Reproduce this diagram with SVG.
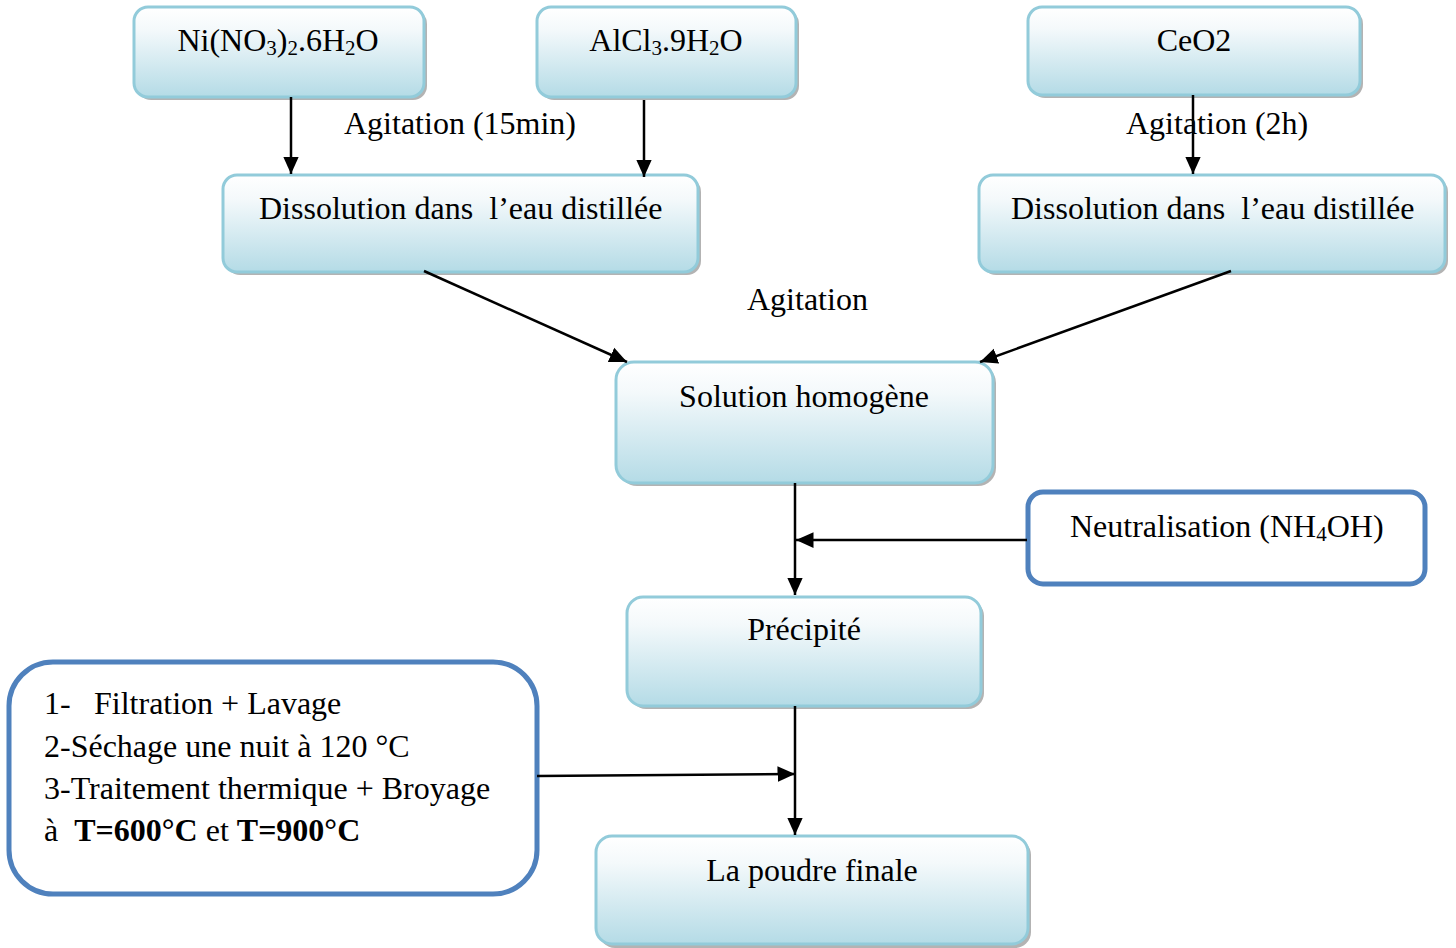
<svg xmlns="http://www.w3.org/2000/svg" width="1456" height="948" viewBox="0 0 1456 948">
<defs>
<linearGradient id="g" x1="0" y1="0" x2="0" y2="1">
<stop offset="0" stop-color="#ffffff"/>
<stop offset="0.25" stop-color="#f4f9fb"/>
<stop offset="1" stop-color="#b4dbe6"/>
</linearGradient>
<marker id="a" viewBox="0 0 10 10" refX="10" refY="5" markerWidth="7" markerHeight="7" orient="auto">
<path d="M0,0.5 L10,5 L0,9.5 z" fill="#000"/>
</marker>
</defs>
<style>
.sh{fill:#9a9a9a;opacity:0.75}
.bx{fill:url(#g);stroke:#92cbda;stroke-width:3}
.bb{fill:#fff;stroke:#4f81bd;stroke-width:5}
text{font-family:"Liberation Serif","Times New Roman",serif;font-size:32px;fill:#000;white-space:pre}
.c{text-anchor:middle}
.sub{font-size:21px}
.ln{stroke:#000;stroke-width:2.5;fill:none;marker-end:url(#a)}
</style>
<rect width="1456" height="948" fill="#fff"/>

<g id="n-ni">
<rect class="sh" x="137" y="10" width="290" height="90" rx="14"/>
<rect class="bx" x="134" y="7" width="290" height="90" rx="14"/>
<text class="c" x="278" y="51">Ni(NO<tspan class="sub" dy="4">3</tspan><tspan dy="-4">)</tspan><tspan class="sub" dy="4">2</tspan><tspan dy="-4">.6H</tspan><tspan class="sub" dy="4">2</tspan><tspan dy="-4">O</tspan></text>
</g>
<g id="n-al">
<rect class="sh" x="540" y="10" width="259" height="90" rx="14"/>
<rect class="bx" x="537" y="7" width="259" height="90" rx="14"/>
<text class="c" x="666" y="51">AlCl<tspan class="sub" dy="4">3</tspan><tspan dy="-4">.9H</tspan><tspan class="sub" dy="4">2</tspan><tspan dy="-4">O</tspan></text>
</g>
<g id="n-ce">
<rect class="sh" x="1031" y="10" width="332" height="88" rx="14"/>
<rect class="bx" x="1028" y="7" width="332" height="88" rx="14"/>
<text class="c" x="1194" y="51">CeO2</text>
</g>
<g id="n-dis1">
<rect class="sh" x="226" y="178" width="475" height="97" rx="14"/>
<rect class="bx" x="223" y="175" width="475" height="97" rx="14"/>
<text x="259" y="219" xml:space="preserve">Dissolution dans  l’eau distillée</text>
</g>
<g id="n-dis2">
<rect class="sh" x="982" y="178" width="466" height="97" rx="14"/>
<rect class="bx" x="979" y="175" width="466" height="97" rx="14"/>
<text x="1011" y="219" xml:space="preserve">Dissolution dans  l’eau distillée</text>
</g>
<g id="n-sol">
<rect class="sh" x="619" y="365" width="377" height="121" rx="18"/>
<rect class="bx" x="616" y="362" width="377" height="121" rx="18"/>
<text class="c" x="804" y="407">Solution homogène</text>
</g>
<g id="n-neu">
<rect class="bb" x="1028" y="492" width="397" height="92" rx="15"/>
<text x="1070" y="537">Neutralisation (NH<tspan class="sub" dy="4">4</tspan><tspan dy="-4">OH)</tspan></text>
</g>
<g id="n-pre">
<rect class="sh" x="630" y="600" width="354" height="109" rx="16"/>
<rect class="bx" x="627" y="597" width="354" height="109" rx="16"/>
<text class="c" x="804" y="640">Précipité</text>
</g>
<g id="n-steps">
<rect class="bb" x="9" y="662" width="528" height="232" rx="44"/>
<text x="44" y="714">1-<tspan x="94">Filtration + Lavage</tspan></text>
<text x="44" y="757">2-Séchage une nuit à 120 °C</text>
<text x="44" y="799">3-Traitement thermique + Broyage</text>
<text x="44" y="841" xml:space="preserve">à  <tspan font-weight="bold">T=600°C</tspan> et <tspan font-weight="bold">T=900°C</tspan></text>
</g>
<g id="n-fin">
<rect class="sh" x="599" y="839" width="432" height="109" rx="16"/>
<rect class="bx" x="596" y="836" width="432" height="108" rx="16"/>
<text class="c" x="812" y="881">La poudre finale</text>
</g>

<g id="connectors">
<line class="ln" x1="291" y1="97" x2="291" y2="174"/>
<line class="ln" x1="644" y1="100" x2="644" y2="177"/>
<line class="ln" x1="1193" y1="95" x2="1193" y2="174"/>
<line class="ln" x1="424" y1="271" x2="627" y2="362"/>
<line class="ln" x1="1231" y1="271" x2="980" y2="362"/>
<line class="ln" x1="795" y1="483" x2="795" y2="595"/>
<line class="ln" x1="1027" y1="540" x2="796" y2="540"/>
<line class="ln" x1="795" y1="706" x2="795" y2="835"/>
<line class="ln" x1="537" y1="776" x2="795" y2="774"/>
</g>
<g id="labels">
<text x="344" y="134">Agitation (15min)</text>
<text x="1126" y="134">Agitation (2h)</text>
<text x="747" y="310">Agitation</text>
</g>
</svg>
